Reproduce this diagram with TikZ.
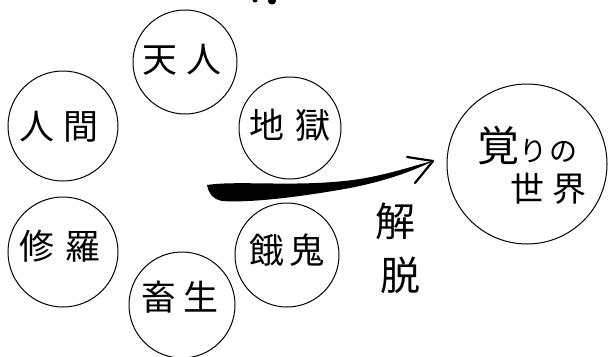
\documentclass[tikz,border=0pt]{standalone}
\usepackage{fontspec}
\newfontfamily\jp{Noto Sans CJK JP}
\begin{document}
\begin{tikzpicture}[x=1pt,y=-1pt,
  realm/.style={draw, circle, line width=1pt, inner sep=0pt},
  word/.style={inner sep=0pt, font=\jp\fontsize{35}{35}\selectfont},
  big/.style={inner sep=0pt, font=\jp\fontsize{40}{40}\selectfont}]
\useasboundingbox (0,0) rectangle (609,356);
% circles
\node[realm, minimum size=104pt] (c1) at (185,62) {};
\node[realm, minimum size=110pt] (c2) at (63,126) {};
\node[realm, minimum size=110pt] (c3) at (63,252) {};
\node[realm, minimum size=106pt] (c4) at (182,305) {};
\node[realm, minimum size=102pt] (c5) at (290,128) {};
\node[realm, minimum size=104pt] (c6) at (287,255) {};
\node[realm, minimum size=160pt] (c7) at (527,164) {};
% texts
\node[word] (t1) at (182,60) {天\hspace{10pt}人};
\node[word] (t2) at (59,127) {人\hspace{10pt}間};
\node[word] (t3) at (60,246) {修\hspace{12pt}羅};
\node[word] (t4) at (180,297) {畜\hspace{8pt}生};
\node[word] (t5) at (290,125) {地\hspace{11pt}獄};
\node[word] (t6) at (287,250) {餓\hspace{5pt}鬼};
\node[inner sep=0pt, anchor=base west] (t7a) at (477,161)
  {\jp\fontsize{42}{42}\selectfont 覚\hspace{0pt}\fontsize{28}{28}\selectfont り\hspace{2pt}の};
\node[inner sep=0pt] (t7b) at (548,189)
  {\jp\fontsize{34}{34}\selectfont 世\hspace{8pt}界};
\node[big] (k1) at (395,221) {解};
\node[big] (k2) at (400,275) {脱};
% arrow (brush stroke)
\coordinate (tip) at (433,161);
\coordinate (tail) at (207,185);
\fill (tail) .. controls (240,180) and (300,188) .. (360,179)
  .. controls (395,173) and (415,165) .. (tip)
  .. controls (415,170) and (390,180) .. (350,188)
  .. controls (300,197) and (250,203) .. (222,201)
  .. controls (212,199) and (208,192) .. (tail) -- cycle;
\coordinate (b1) at (407,157);
\coordinate (b2) at (415,183);
\draw[line width=2.2pt, line cap=round, line join=round] (b1) -- (tip) -- (b2);
% cut-off marks at top
\fill (255,0) ellipse (2.5pt and 2.5pt);
\fill (272,1) ellipse (4pt and 3.5pt);
\end{tikzpicture}
\end{document}
